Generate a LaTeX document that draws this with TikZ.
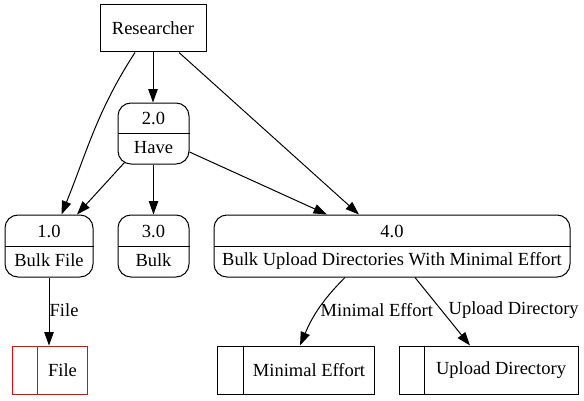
\documentclass[tikz,border=0pt]{standalone}
\usepackage{fontspec}
\setmainfont{Liberation Serif}
\usetikzlibrary{arrows.meta}
\begin{document}
\begin{tikzpicture}[x=1pt,y=1pt, font=\fontsize{18.5}{22}\selectfont,
  box/.style={draw, line width=1pt, inner sep=0pt},
  proc/.style={box, rounded corners=13pt},
  lbl/.style={inner sep=0pt},
  arr/.style={-{Triangle[length=13.5pt,width=9.5pt]}, line width=1pt}]
\useasboundingbox (0,0) rectangle (584,400);
% external entity
\node[box, minimum width=106pt, minimum height=47pt] (r) at (153,371.5) {Researcher};
% processes
\node[proc, minimum width=71pt, minimum height=61pt] (p2) at (153.5,266.5) {};
\draw[line width=1pt] (p2.west) -- (p2.east);
\node[lbl] (p2a) at ([yshift=15pt]p2.center) {2.0};
\node[lbl] (p2b) at ([yshift=-14.5pt]p2.center) {Have};

\node[proc, minimum width=88pt, minimum height=62pt] (p1) at (49,154) {};
\draw[line width=1pt] (p1.west) -- (p1.east);
\node[lbl] (p1a) at ([yshift=15pt]p1.center) {1.0};
\node[lbl] (p1b) at ([yshift=-14.5pt]p1.center) {Bulk File};

\node[proc, minimum width=71pt, minimum height=62pt] (p3) at (153.5,154) {};
\draw[line width=1pt] (p3.west) -- (p3.east);
\node[lbl] (p3a) at ([yshift=15pt]p3.center) {3.0};
\node[lbl] (p3b) at ([yshift=-14.5pt]p3.center) {Bulk};

\node[proc, minimum width=356pt, minimum height=62pt] (p4) at (392,154) {};
\draw[line width=1pt] (p4.west) -- (p4.east);
\node[lbl] (p4a) at ([yshift=15pt]p4.center) {4.0};
\node[lbl] (p4b) at ([yshift=-14.5pt]p4.center) {Bulk Upload Directories With Minimal Effort};
% data stores
\node[box, draw=red, minimum width=75pt, minimum height=48pt] (sf) at (49.5,30) {};
\draw[red, line width=1pt] ([xshift=26pt]sf.north west) -- ([xshift=26pt]sf.south west);
\node[lbl] (sft) at (62.5,30) {File};

\node[box, minimum width=157pt, minimum height=48pt] (sme) at (295.5,30) {};
\draw[line width=1pt] ([xshift=27pt]sme.north west) -- ([xshift=27pt]sme.south west);
\node[lbl] (smet) at (309,30) {Minimal Effort};

\node[box, minimum width=179pt, minimum height=48pt] (sud) at (488.5,30) {};
\draw[line width=1pt] ([xshift=26pt]sud.north west) -- ([xshift=26pt]sud.south west);
\node[lbl] (sudt) at (501,30) {Upload Directory};
% flows
\draw[arr] (r.south) -- (r.south |- p2.north);
\draw[arr] ([xshift=-18pt]r.south) to[out=-123,in=68] ([xshift=12.5pt]p1.north);
\draw[arr] ([xshift=7pt,yshift=2pt]p2.south west) -- ([xshift=28pt]p1.north);
\draw[arr] (p2.south) -- (p3.north);
\draw[arr] ([yshift=-18.5pt]p2.east) -- ([xshift=-65pt]p4.north);
\draw[arr] ([xshift=26pt]r.south) -- ([xshift=-33pt]p4.north);
\draw[arr] (p1.south) -- (p1.south |- sf.north);
\node[lbl, anchor=west] (lf) at (49.5,90) {File};
\draw[arr] ([xshift=-47pt]p4.south) to[out=-135,in=67] ([xshift=4.5pt]sme.north);
\node[lbl, anchor=west] (lme) at (320.5,90) {Minimal Effort};
\draw[arr] ([xshift=23pt]p4.south) -- ([xshift=-18.5pt]sud.north);
\node[lbl, anchor=west] (lud) at (448.5,90) {Upload Directory};
\end{tikzpicture}
\end{document}
